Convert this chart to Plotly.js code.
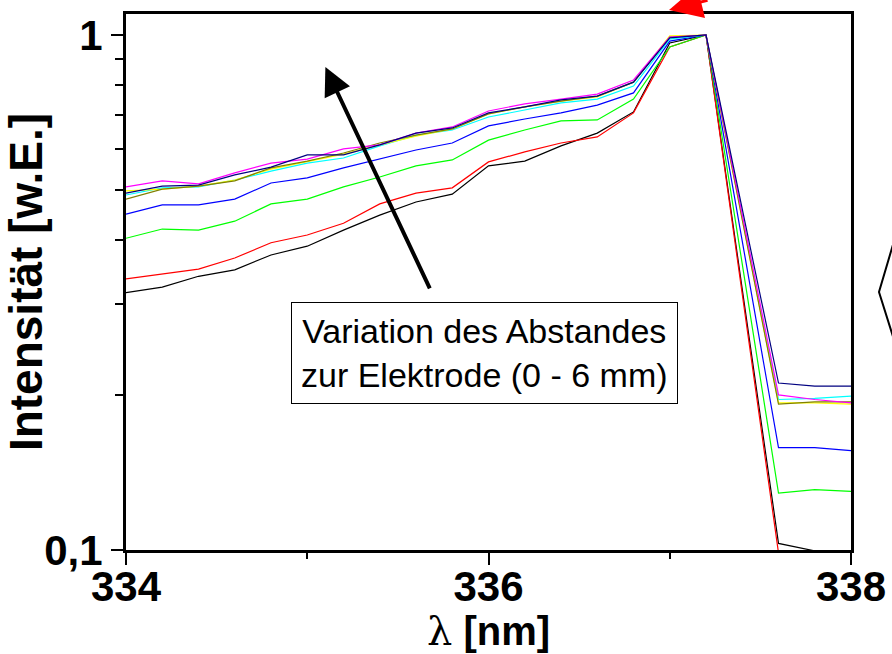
<!DOCTYPE html>
<html>
<head>
<meta charset="utf-8">
<script src="https://cdn.plot.ly/plotly-3.0.1.min.js"></script>
<style>
  html, body { margin: 0; padding: 0; background: #ffffff; }
  #chart { width: 892px; height: 654px; }
</style>
</head>
<body>
<div id="chart"></div>
<script>
// Wavelength grid (nm)
const wavelength = [334.0, 334.2, 334.4, 334.6, 334.8, 335.0, 335.2, 335.4, 335.6, 335.8,
                    336.0, 336.2, 336.4, 336.6, 336.8, 337.0, 337.2, 337.4, 337.6, 337.8, 338.0];

// Normalised intensities, one spectrum per electrode distance
const specBlack   = [0.316, 0.324, 0.340, 0.350, 0.374, 0.389, 0.418, 0.447, 0.474, 0.491, 0.557, 0.569, 0.609, 0.645, 0.709, 0.965, 1.000, 0.321, 0.103, 0.0996, 0.0987];
const specRed     = [0.336, 0.343, 0.351, 0.369, 0.395, 0.409, 0.431, 0.470, 0.493, 0.505, 0.567, 0.593, 0.617, 0.634, 0.706, 0.948, 1.000, 0.314, 0.0987, 0.0956, 0.0956];
const specGreen   = [0.403, 0.420, 0.418, 0.435, 0.470, 0.480, 0.507, 0.530, 0.557, 0.572, 0.625, 0.654, 0.681, 0.684, 0.751, 0.948, 1.000, 0.359, 0.129, 0.131, 0.130];
const specBlue    = [0.449, 0.468, 0.468, 0.480, 0.516, 0.528, 0.552, 0.574, 0.598, 0.617, 0.666, 0.687, 0.706, 0.731, 0.772, 0.973, 1.000, 0.398, 0.158, 0.158, 0.156];
const specCyan    = [0.489, 0.505, 0.507, 0.523, 0.544, 0.564, 0.577, 0.609, 0.639, 0.654, 0.693, 0.715, 0.738, 0.751, 0.796, 0.982, 1.000, 0.443, 0.196, 0.197, 0.199];
const specYellow  = [0.498, 0.502, 0.509, 0.523, 0.549, 0.567, 0.587, 0.612, 0.636, 0.657, 0.703, 0.725, 0.744, 0.758, 0.810, 0.996, 1.000, 0.439, 0.193, 0.193, 0.192];
const specOlive   = [0.480, 0.502, 0.509, 0.521, 0.552, 0.569, 0.590, 0.617, 0.639, 0.657, 0.703, 0.725, 0.744, 0.761, 0.810, 0.991, 1.000, 0.439, 0.192, 0.194, 0.194];
const specMagenta = [0.507, 0.521, 0.514, 0.540, 0.564, 0.574, 0.601, 0.612, 0.645, 0.663, 0.712, 0.735, 0.751, 0.768, 0.818, 0.991, 1.000, 0.447, 0.200, 0.196, 0.193];
const specNavy    = [0.493, 0.509, 0.511, 0.535, 0.554, 0.585, 0.585, 0.612, 0.645, 0.660, 0.706, 0.725, 0.748, 0.761, 0.810, 0.987, 1.000, 0.459, 0.211, 0.208, 0.208];

// Axis ticks
const xTickVals = [334, 336, 338];
const xTickText = ['334', '336', '338'];
const xMinorVals = [335, 337];
const yTickVals = [0.1, 1];
const yTickText = ['0,1', '1'];
const yMinorVals = [0.2, 0.3, 0.4, 0.5, 0.6, 0.7, 0.8, 0.9];

const boxText = 'Variation des Abstandes<br>zur Elektrode (0 - 6 mm)';

const spectra = [
  { y: specBlack,   color: '#000000' },
  { y: specRed,     color: '#ff0000' },
  { y: specGreen,   color: '#00ff00' },
  { y: specBlue,    color: '#0000ff' },
  { y: specCyan,    color: '#00ffff' },
  { y: specYellow,  color: '#ffff00' },
  { y: specOlive,   color: '#808000' },
  { y: specMagenta, color: '#ff00ff' },
  { y: specNavy,    color: '#000080' }
];

const traces = spectra.map(s => ({
  x: wavelength,
  y: s.y,
  type: 'scatter',
  mode: 'lines',
  line: { color: s.color, width: 1.2 },
  showlegend: false,
  hoverinfo: 'x+y'
}));

const FONT = '"Liberation Sans", Arial, Helvetica, sans-serif';

// Direction arrow of increasing distance (positions on the log axis are log10 values)
const arrowHead = { x: 335.10, y: Math.log10(0.867) };
const arrowTail = { x: 335.68, y: Math.log10(0.320) };

const layout = {
  width: 892,
  height: 654,
  margin: { l: 126, r: 41, t: 14, b: 104 },
  paper_bgcolor: '#ffffff',
  plot_bgcolor: '#ffffff',
  font: { family: FONT, color: '#000000' },
  showlegend: false,
  xaxis: {
    range: [334, 338],
    tickmode: 'array',
    tickvals: xTickVals,
    ticktext: xTickText,
    ticks: 'outside',
    ticklen: 12,
    tickwidth: 2,
    tickcolor: '#000000',
    ticklabelstandoff: -14,
    showline: true,
    linewidth: 3,
    linecolor: '#000000',
    mirror: true,
    showgrid: false,
    zeroline: false,
    tickfont: { family: FONT, size: 42, weight: 'bold', color: '#000000' },
    minor: { tickmode: 'array', tickvals: xMinorVals, ticks: 'outside', ticklen: 6, tickwidth: 2, tickcolor: '#000000', showgrid: false },
    title: {
      text: '<span style="font-family:\'DejaVu Serif\', serif; font-weight:normal">λ</span> [nm]',
      font: { family: FONT, size: 40, weight: 'bold', color: '#000000' },
      standoff: 2
    }
  },
  yaxis: {
    type: 'log',
    range: [-1, 0.0408],
    tickmode: 'array',
    tickvals: yTickVals,
    ticktext: yTickText,
    ticks: 'outside',
    ticklen: 12,
    tickwidth: 2,
    tickcolor: '#000000',
    showline: true,
    linewidth: 3,
    linecolor: '#000000',
    mirror: true,
    showgrid: false,
    zeroline: false,
    tickfont: { family: FONT, size: 42, weight: 'bold', color: '#000000' },
    minor: { tickmode: 'array', tickvals: yMinorVals, ticks: 'outside', ticklen: 8, tickwidth: 2, tickcolor: '#000000', showgrid: false },
    title: {
      text: 'Intensität [w.E.]',
      font: { family: FONT, size: 46, weight: 'bold', color: '#000000' },
      standoff: 0
    }
  },
  annotations: [
    {
      xref: 'x', yref: 'y', axref: 'x', ayref: 'y',
      x: arrowHead.x, y: arrowHead.y,
      ax: arrowTail.x, ay: arrowTail.y,
      text: '',
      showarrow: true,
      arrowhead: 2,
      arrowsize: 1.4,
      arrowwidth: 4,
      arrowcolor: '#000000',
      standoff: 0, startstandoff: 0
    },
    {
      xref: 'paper', yref: 'paper',
      x: 0.4938, y: 0.3675,
      xanchor: 'center', yanchor: 'middle',
      text: boxText,
      showarrow: false,
      align: 'center',
      font: { family: FONT, size: 34, color: '#000000' },
      bgcolor: '#ffffff',
      bordercolor: '#000000',
      borderwidth: 1,
      borderpad: 9
    },
    {
      xref: 'paper', yref: 'paper',
      x: 0.749, y: 1.0075,
      axref: 'pixel', ayref: 'pixel',
      ax: 40, ay: -50,
      text: '',
      showarrow: true,
      arrowhead: 2,
      arrowsize: 2.2,
      arrowwidth: 3,
      arrowcolor: '#ff0000',
      standoff: 0
    }
  ],
  shapes: [
    {
      type: 'path',
      xref: 'paper', yref: 'paper',
      path: 'M 1.0586 0.5728 L 1.0386 0.4813 L 1.0586 0.3955',
      line: { color: '#000000', width: 2 }
    }
  ]
};

Plotly.newPlot('chart', traces, layout, { staticPlot: true, displayModeBar: false });
</script>
</body>
</html>
